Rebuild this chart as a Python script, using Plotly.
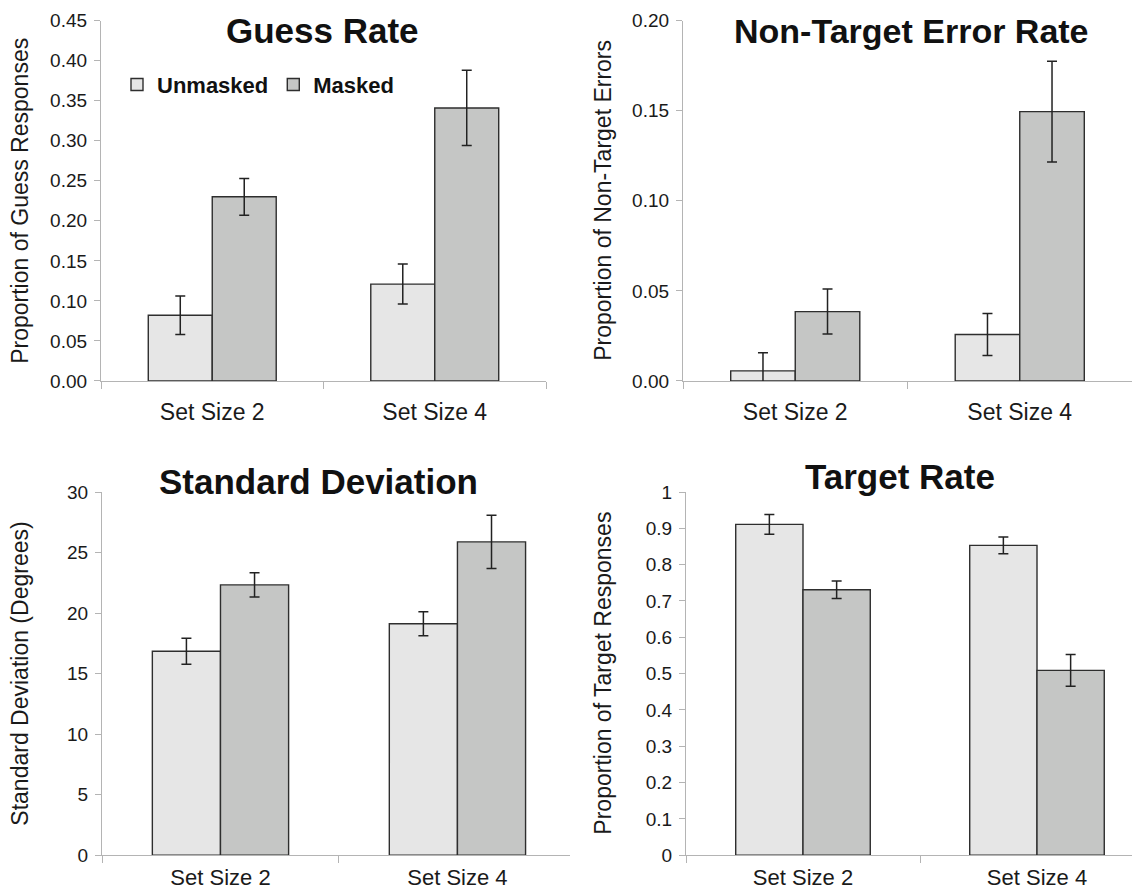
import plotly.graph_objects as go

W, H = 1124, 900
# empirical mapping from figure pixels to the photographed picture
SX, OX = 1.0, 8.0
SY, OY = 0.976, 17.3


def fx(X):
    return ((X - OX) / SX) / W


def fy(Y):
    return 1 - ((Y - OY) / SY) / H


categories = ["Set Size 2", "Set Size 4"]
series_names = ["Unmasked", "Masked"]

guess_unmasked = [0.082, 0.121]
guess_unmasked_err = [0.024, 0.025]
guess_masked = [0.230, 0.341]
guess_masked_err = [0.023, 0.047]

nontarget_unmasked = [0.0056, 0.0258]
nontarget_unmasked_err = [0.010, 0.0117]
nontarget_masked = [0.0385, 0.1495]
nontarget_masked_err = [0.0125, 0.028]

sd_unmasked = [16.85, 19.12]
sd_unmasked_err = [1.08, 1.0]
sd_masked = [22.33, 25.88]
sd_masked_err = [1.0, 2.2]

target_unmasked = [0.911, 0.853]
target_unmasked_err = [0.027, 0.023]
target_masked = [0.731, 0.509]
target_masked_err = [0.024, 0.044]

titles = ["Guess Rate", "Non-Target Error Rate", "Standard Deviation", "Target Rate"]
ytitles = ["Proportion of Guess Responses", "Proportion of Non-Target Errors",
           "Standard Deviation (Degrees)", "Proportion of Target Responses"]

FONT = "Liberation Sans, Arial, Helvetica, sans-serif"
C_UN = "#e6e6e6"
C_MA = "#c5c6c5"
EDGE = "#2e2e2e"
AXC = "#b4b4b4"

panels = [
    (guess_unmasked, guess_unmasked_err, guess_masked, guess_masked_err),
    (nontarget_unmasked, nontarget_unmasked_err, nontarget_masked, nontarget_masked_err),
    (sd_unmasked, sd_unmasked_err, sd_masked, sd_masked_err),
    (target_unmasked, target_unmasked_err, target_masked, target_masked_err),
]

# target boxes in the picture: (left, right, top, bottom)
boxes = [(101, 546, 20, 380), (683, 1136, 20, 380), (102, 570, 491, 854), (686, 1132, 491, 854)]
xranges = [[-0.5, 1.5], [-0.5, 1.5], [-0.5, 1.475], [-0.5, 1.406]]
yranges = [[0, 0.45], [0, 0.20], [0, 30], [0, 1]]
dticks = [0.05, 0.05, 5, 0.1]
tfmts = [".2f", ".2f", "d", ""]
xstandoff = [10, 10, 2, 2]
xfont = [23, 23, 22, 22]

fig = go.Figure()
for i, (u, ue, m, me) in enumerate(panels):
    ax = "" if i == 0 else str(i + 1)
    for name, vals, errs, col in [("Unmasked", u, ue, C_UN), ("Masked", m, me, C_MA)]:
        fig.add_trace(go.Bar(
            x=categories, y=vals, name=name,
            marker=dict(color=col, line=dict(color=EDGE, width=1.4)),
            error_y=dict(type="data", array=errs, visible=True, color="#222222",
                         thickness=1.5, width=5),
            xaxis="x" + ax, yaxis="y" + ax,
            showlegend=(i == 0), legendgroup=name,
        ))

layout = dict(
    width=W, height=H,
    margin=dict(l=0, r=0, t=0, b=0),
    paper_bgcolor="white", plot_bgcolor="white",
    barmode="group", bargap=0.425, bargroupgap=0,
    font=dict(family=FONT, color="#1a1a1a"),
    legend=dict(orientation="h", x=fx(117), y=fy(84), xanchor="left", yanchor="middle",
                font=dict(family=FONT, size=22, color="#111111", weight="bold"),
                bgcolor="rgba(0,0,0,0)", itemwidth=30, traceorder="normal"),
    annotations=[],
)

title_y = [30, 30, 480, 475]
title_x = [322, 911, 318, 900]
title_size = [35, 34, 35, 35]
for i in range(4):
    l, r, t, b = boxes[i]
    ax = "" if i == 0 else str(i + 1)
    layout["xaxis" + ax] = dict(
        domain=[fx(l), min(fx(r), 1.0)], anchor="y" + ax, range=xranges[i], type="category",
        showline=True, linecolor=AXC, linewidth=1.3, ticks="outside", tickson="boundaries",
        ticklen=7, tickcolor=AXC, tickwidth=1.3, showgrid=False, zeroline=False,
        ticklabelstandoff=xstandoff[i],
        tickfont=dict(size=xfont[i], family=FONT, color="#1a1a1a"), fixedrange=True,
    )
    layout["yaxis" + ax] = dict(
        domain=[fy(b), fy(t)], anchor="x" + ax, range=yranges[i],
        dtick=dticks[i], tick0=0, tickformat=tfmts[i],
        showline=True, linecolor=AXC, linewidth=1.3, ticks="outside",
        ticklen=6, tickcolor=AXC, tickwidth=1.3, showgrid=False, zeroline=False,
        ticklabelstandoff=3,
        tickfont=dict(size=19, family=FONT, color="#1a1a1a"), fixedrange=True,
    )
    layout["annotations"].append(dict(
        text="<b>" + titles[i] + "</b>", xref="paper", yref="paper",
        x=fx(title_x[i]), y=fy(title_y[i]),
        xanchor="center", yanchor="middle", showarrow=False,
        font=dict(family=FONT, size=title_size[i], color="#111111"),
    ))
    ytx = 20 if i % 2 == 0 else 603
    layout["annotations"].append(dict(
        text=ytitles[i], xref="paper", yref="paper",
        x=fx(ytx), y=fy((t + b) / 2), textangle=-90,
        xanchor="center", yanchor="middle", showarrow=False,
        font=dict(family=FONT, size=23, color="#1a1a1a"),
    ))

fig.update_layout(**layout)
fig.write_html("out.html")
